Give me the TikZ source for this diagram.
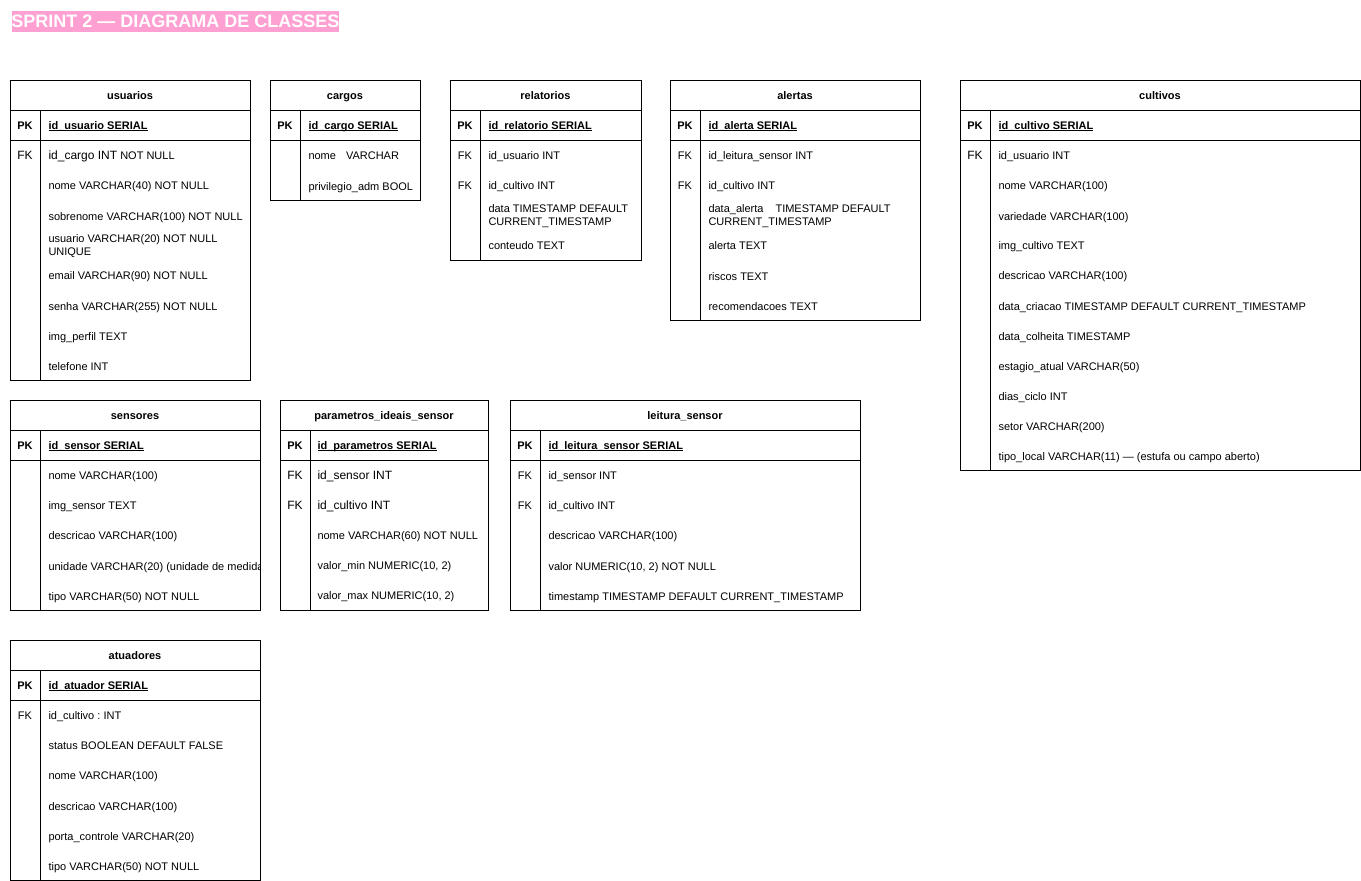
\documentclass[tikz,border=0pt]{standalone}
\usepackage{fontspec}
\setmainfont{Liberation Sans}
\definecolor{titlepink}{RGB}{255,160,210}
\newcommand\fkfont{\fontsize{12}{14}\selectfont}
\newcommand\pkul[1]{\setbox0\hbox{#1}\rlap{\rule[-1.6pt]{\wd0}{0.8pt}}\box0}
\frenchspacing

\begin{document}
\begin{tikzpicture}[x=1pt,y=-1pt,line width=1pt,
    every node/.style={inner sep=0pt,font=\fontsize{11}{13}\selectfont},
    head/.style={anchor=base,font=\fontsize{11}{13}\selectfont\bfseries},
    key/.style={anchor=base,font=\fontsize{11}{13}\selectfont\bfseries},
    fk/.style={anchor=base},
    field/.style={anchor=base west},
    twoline/.style={anchor=west,align=left}]
    \useasboundingbox (0,0) rectangle (1361,881);

    \fill[titlepink] (12,11) rectangle (339,32);
    \node[font=\fontsize{18}{20}\selectfont\bfseries,text=white] (title) at (175.5,21.5) {SPRINT 2 — DIAGRAMA DE CLASSES};

    % usuarios
    \draw (10,80) rectangle (250,380) (10,110) -- (250,110) (10,140) -- (250,140) (40,110) -- (40,380);
    \node[head] (usuarios) at (130,99) {usuarios};
    \node[key] (usuarios-pk) at (25,129) {PK};
    \node[key,anchor=base west] (usuarios-id) at (48,129) {\pkul{id\_usuario SERIAL}};
    \node[fk,font=\fkfont] (usuarios-fk) at (25,159) {FK};
    \node[field] (usuarios-cargo) at (48,159) {{\fkfont id\_cargo INT} NOT NULL};
    \node[field] (usuarios-nome) at (48,189) {nome VARCHAR(40) NOT NULL};
    \node[field] (usuarios-sobrenome) at (48,220) {sobrenome VARCHAR(100) NOT NULL};
    \node[twoline] (usuarios-usuario) at (48,246) {usuario VARCHAR(20) NOT NULL\\UNIQUE};
    \node[field] (usuarios-email) at (48,279) {email VARCHAR(90) NOT NULL};
    \node[field] (usuarios-senha) at (48,310) {senha VARCHAR(255) NOT NULL};
    \node[field] (usuarios-img) at (48,340) {img\_perfil TEXT};
    \node[field] (usuarios-tel) at (48,370) {telefone INT};

    % cargos
    \draw (270,80) rectangle (420,200) (270,110) -- (420,110) (270,140) -- (420,140) (300,110) -- (300,200);
    \node[head] (cargos) at (345,99) {cargos};
    \node[key] (cargos-pk) at (285,129) {PK};
    \node[key,anchor=base west] (cargos-id) at (308,129) {\pkul{id\_cargo SERIAL}};
    \node[field] (cargos-nome) at (308,159) {nome\hspace{10pt}VARCHAR};
    \node[field] (cargos-adm) at (308,190) {privilegio\_adm BOOL};

    % relatorios
    \draw (450,80) rectangle (641,260) (450,110) -- (641,110) (450,140) -- (641,140) (480,110) -- (480,260);
    \node[head] (relatorios) at (545.5,99) {relatorios};
    \node[key] (relatorios-pk) at (465,129) {PK};
    \node[key,anchor=base west] (relatorios-id) at (488,129) {\pkul{id\_relatorio SERIAL}};
    \node[fk] (relatorios-fk1) at (465,159) {FK};
    \node[field] (relatorios-usuario) at (488,159) {id\_usuario INT};
    \node[fk] (relatorios-fk2) at (465,189) {FK};
    \node[field] (relatorios-cultivo) at (488,189) {id\_cultivo INT};
    \node[twoline] (relatorios-data) at (488,216) {data TIMESTAMP DEFAULT\\CURRENT\_TIMESTAMP};
    \node[field] (relatorios-conteudo) at (488,249) {conteudo TEXT};

    % alertas
    \draw (670,80) rectangle (920,320) (670,110) -- (920,110) (670,140) -- (920,140) (700,110) -- (700,320);
    \node[head] (alertas) at (795,99) {alertas};
    \node[key] (alertas-pk) at (685,129) {PK};
    \node[key,anchor=base west] (alertas-id) at (708,129) {\pkul{id\_alerta SERIAL}};
    \node[fk] (alertas-fk1) at (685,159) {FK};
    \node[field] (alertas-leitura) at (708,159) {id\_leitura\_sensor INT};
    \node[fk] (alertas-fk2) at (685,189) {FK};
    \node[field] (alertas-cultivo) at (708,189) {id\_cultivo INT};
    \node[twoline] (alertas-data) at (708,216) {data\_alerta\hspace{12pt}TIMESTAMP DEFAULT\\CURRENT\_TIMESTAMP};
    \node[field] (alertas-alerta) at (708,249) {alerta TEXT};
    \node[field] (alertas-riscos) at (708,280) {riscos TEXT};
    \node[field] (alertas-recom) at (708,310) {recomendacoes TEXT};

    % cultivos
    \draw (960,80) rectangle (1360,470) (960,110) -- (1360,110) (960,140) -- (1360,140) (990,110) -- (990,470);
    \node[head] (cultivos) at (1160,99) {cultivos};
    \node[key] (cultivos-pk) at (975,129) {PK};
    \node[key,anchor=base west] (cultivos-id) at (998,129) {\pkul{id\_cultivo SERIAL}};
    \node[fk,font=\fkfont] (cultivos-fk) at (975,159) {FK};
    \node[field] (cultivos-usuario) at (998,159) {id\_usuario INT};
    \node[field] (cultivos-nome) at (998,189) {nome VARCHAR(100)};
    \node[field] (cultivos-variedade) at (998,220) {variedade VARCHAR(100)};
    \node[field] (cultivos-img) at (998,249) {img\_cultivo TEXT};
    \node[field] (cultivos-descricao) at (998,279) {descricao VARCHAR(100)};
    \node[field] (cultivos-criacao) at (998,310) {data\_criacao TIMESTAMP DEFAULT CURRENT\_TIMESTAMP};
    \node[field] (cultivos-colheita) at (998,340) {data\_colheita TIMESTAMP};
    \node[field] (cultivos-estagio) at (998,370) {estagio\_atual VARCHAR(50)};
    \node[field] (cultivos-dias) at (998,400) {dias\_ciclo INT};
    \node[field] (cultivos-setor) at (998,430) {setor VARCHAR(200)};
    \node[field] (cultivos-local) at (998,460) {tipo\_local VARCHAR(11) — (estufa ou campo aberto)};

    % sensores
    \draw (10,400) rectangle (260,610) (10,430) -- (260,430) (10,460) -- (260,460) (40,430) -- (40,610);
    \node[head] (sensores) at (135,419) {sensores};
    \node[key] (sensores-pk) at (25,449) {PK};
    \node[key,anchor=base west] (sensores-id) at (48,449) {\pkul{id\_sensor SERIAL}};
    \node[field] (sensores-nome) at (48,479) {nome VARCHAR(100)};
    \node[field] (sensores-img) at (48,509) {img\_sensor TEXT};
    \node[field] (sensores-descricao) at (48,539) {descricao VARCHAR(100)};
    \begin{scope}
      \clip (41,540) rectangle (259.5,600);
      \node[field] (sensores-unidade) at (48,570) {unidade VARCHAR(20) (unidade de medida)};
    \end{scope}
    \node[field] (sensores-tipo) at (48,600) {tipo VARCHAR(50) NOT NULL};

    % parametros_ideais_sensor
    \draw (280,400) rectangle (488,610) (280,430) -- (488,430) (280,460) -- (488,460) (310,430) -- (310,610);
    \node[head] (parametros) at (384,419) {parametros\_ideais\_sensor};
    \node[key] (parametros-pk) at (295,449) {PK};
    \node[key,anchor=base west] (parametros-id) at (317,449) {\pkul{id\_parametros SERIAL}};
    \node[fk,font=\fkfont] (parametros-fk1) at (295,479) {FK};
    \node[field,font=\fkfont] (parametros-sensor) at (317,479) {id\_sensor INT};
    \node[fk,font=\fkfont] (parametros-fk2) at (295,509) {FK};
    \node[field,font=\fkfont] (parametros-cultivo) at (317,509) {id\_cultivo INT};
    \node[field] (parametros-nome) at (317,539) {nome VARCHAR(60) NOT NULL};
    \node[field] (parametros-min) at (317,569) {valor\_min NUMERIC(10, 2)};
    \node[field] (parametros-max) at (317,599) {valor\_max NUMERIC(10, 2)};

    % leitura_sensor
    \draw (510,400) rectangle (860,610) (510,430) -- (860,430) (510,460) -- (860,460) (540,430) -- (540,610);
    \node[head] (leitura) at (685,419) {leitura\_sensor};
    \node[key] (leitura-pk) at (525,449) {PK};
    \node[key,anchor=base west] (leitura-id) at (548,449) {\pkul{id\_leitura\_sensor SERIAL}};
    \node[fk] (leitura-fk1) at (525,479) {FK};
    \node[field] (leitura-sensor) at (548,479) {id\_sensor INT};
    \node[fk] (leitura-fk2) at (525,509) {FK};
    \node[field] (leitura-cultivo) at (548,509) {id\_cultivo INT};
    \node[field] (leitura-descricao) at (548,539) {descricao VARCHAR(100)};
    \node[field] (leitura-valor) at (548,570) {valor NUMERIC(10, 2) NOT NULL};
    \node[field] (leitura-timestamp) at (548,600) {timestamp TIMESTAMP DEFAULT CURRENT\_TIMESTAMP};

    % atuadores
    \draw (10,640) rectangle (260,880) (10,670) -- (260,670) (10,700) -- (260,700) (40,670) -- (40,880);
    \node[head] (atuadores) at (135,659) {atuadores};
    \node[key] (atuadores-pk) at (25,689) {PK};
    \node[key,anchor=base west] (atuadores-id) at (48,689) {\pkul{id\_atuador SERIAL}};
    \node[fk] (atuadores-fk) at (25,719) {FK};
    \node[field] (atuadores-cultivo) at (48,719) {id\_cultivo : INT};
    \node[field] (atuadores-status) at (48,749) {status BOOLEAN DEFAULT FALSE};
    \node[field] (atuadores-nome) at (48,779) {nome VARCHAR(100)};
    \node[field] (atuadores-descricao) at (48,810) {descricao VARCHAR(100)};
    \node[field] (atuadores-porta) at (48,840) {porta\_controle VARCHAR(20)};
    \node[field] (atuadores-tipo) at (48,870) {tipo VARCHAR(50) NOT NULL};

  \end{tikzpicture}
\end{document}
